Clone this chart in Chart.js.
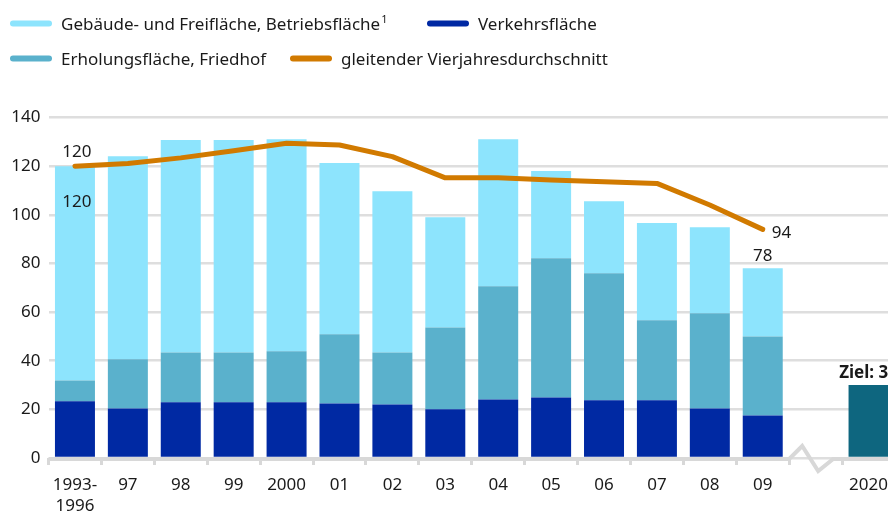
<!DOCTYPE html>
<html>
<head>
<meta charset="utf-8">
<script src="https://cdn.jsdelivr.net/npm/chart.js@4"></script>
<style>
  html, body { margin:0; padding:0; background:#fff; overflow:hidden; width:888px; height:515px; }
  #wrap { position:absolute; left:0; top:0; width:900px; height:515px; }
  #legend { position:absolute; left:0; top:0; width:888px; height:80px; font-family:"Noto Sans", sans-serif; font-size:17px; color:#1a1a1a; }
  .li { position:absolute; display:flex; align-items:center; white-space:nowrap; transform:translateY(-50%); }
  .mk { width:42px; height:6px; border-radius:3px; margin-right:9px; flex:none; }
  .tx sup { font-size:11px; vertical-align:7px; line-height:0; margin-left:1px; }
</style>
</head>
<body>
<div id="wrap"><canvas id="c" width="900" height="515"></canvas></div>
<div id="legend"></div>
<script>
// ---- data ----
const categories = [['1993-','1996'],'97','98','99','2000','01','02','03','04','05','06','07','08','09','','2020'];
const verkehr  = [23.3,20.4,22.9,22.9,22.9,22.4,22.0,20.0,24.1,24.9,23.7,23.7,20.4,17.5,null,null];
const erholung = [ 8.6,20.2,20.5,20.5,21.0,28.5,21.4,33.7,46.5,57.2,52.3,32.9,39.1,32.5,null,null];
const gebaeude = [88.1,83.5,87.3,87.3,87.2,70.4,66.3,45.3,60.5,35.9,29.6,40.0,35.4,28.0,null,null];
const average  = [120,121.1,123.4,126.3,129.4,128.7,123.9,115.2,115.2,114.3,113.6,112.9,104.0,94,null,null];
const target   = [null,null,null,null,null,null,null,null,null,null,null,null,null,null,null,30];
const yTicks   = [0,20,40,60,80,100,120,140];
const seriesNames = ['Gebäude- und Freifläche, Betriebsfläche', 'Verkehrsfläche', 'Erholungsfläche, Friedhof', 'gleitender Vierjahresdurchschnitt'];
const targetLabel = 'Ziel:';

// ---- styles ----
const C_LIGHT = '#8de4fd', C_MID = '#5ab1cc', C_DARK = '#0029a3', C_ORANGE = '#d17a00', C_TEAL = '#0e667f';
const FONT = '"Noto Sans", sans-serif';
const TXT = '#1a1a1a';
const GRID = '#dedede';

// legend (HTML, built from the series names)
const legendItems = [
  {name: seriesNames[0], color: C_LIGHT, sup: '1'},
  {name: seriesNames[1], color: C_DARK},
  {name: seriesNames[2], color: C_MID},
  {name: seriesNames[3], color: C_ORANGE}
];
const legendPos = [[10,23],[427,23],[10,58],[290,58]];
const lg = document.getElementById('legend');
legendItems.forEach((it,i)=>{
  const d = document.createElement('div');
  d.className = 'li';
  d.style.left = legendPos[i][0]+'px';
  d.style.top = legendPos[i][1]+'px';
  const m = document.createElement('span'); m.className='mk'; m.style.background = it.color;
  const t = document.createElement('span'); t.className = 'tx'; t.textContent = it.name;
  if (it.sup) { const s = document.createElement('sup'); s.textContent = it.sup; t.appendChild(s); }
  d.appendChild(m); d.appendChild(t);
  lg.appendChild(d);
});

const totals = verkehr.map((v,i)=> v==null ? null : v + erholung[i] + gebaeude[i]);

const decor = {
  id: 'decor',
  beforeDatasetsDraw(chart) {
    const {ctx, chartArea} = chart;
    const x = chart.scales.x;
    const slot = x.getPixelForValue(1) - x.getPixelForValue(0);
    const y0 = chart.scales.y.getPixelForValue(0) + 1;
    const b1 = x.getPixelForValue(13) + slot/2;
    ctx.save();
    ctx.strokeStyle = '#d8d8d8';
    ctx.lineWidth = 4;
    ctx.lineJoin = 'miter';
    ctx.beginPath();
    ctx.moveTo(chartArea.left, y0);
    ctx.lineTo(b1, y0);
    ctx.lineTo(b1+13, y0-13);
    ctx.lineTo(b1+29, y0+12);
    ctx.lineTo(b1+44, y0);
    ctx.lineTo(chartArea.right, y0);
    ctx.stroke();
    ctx.restore();
  },
  afterDatasetsDraw(chart) {
    const {ctx} = chart;
    const x = chart.scales.x, y = chart.scales.y;
    ctx.save();
    ctx.fillStyle = TXT;
    ctx.font = '17px ' + FONT;
    ctx.textAlign = 'center';
    ctx.textBaseline = 'middle';
    const first = 0, last = 13;
    ctx.fillText(String(Math.round(average[first])), x.getPixelForValue(first)+2, y.getPixelForValue(average[first]) - 14);
    ctx.fillText(String(Math.round(totals[first])), x.getPixelForValue(first)+2, y.getPixelForValue(totals[first]) + 36);
    ctx.fillText(String(Math.round(totals[last])), x.getPixelForValue(last), y.getPixelForValue(totals[last]) - 12);
    ctx.textAlign = 'left';
    ctx.fillText(String(Math.round(average[last])), x.getPixelForValue(last) + 9, y.getPixelForValue(average[last]) + 4);
    ctx.textAlign = 'center';
    ctx.font = 'bold 17px ' + FONT;
    const ti = 15;
    ctx.fillText(targetLabel + ' ' + target[ti], x.getPixelForValue(ti), y.getPixelForValue(target[ti]) - 12);
    ctx.restore();
  }
};

new Chart(document.getElementById('c'), {
  data: {
    labels: categories,
    datasets: [
      {type:'line', label: seriesNames[3], data: average, borderColor: C_ORANGE, backgroundColor: C_ORANGE,
       borderWidth: 5, pointRadius: 0, pointHoverRadius: 0, tension: 0, borderCapStyle: 'round', borderJoinStyle: 'round',
       stack: 'avg', order: 0, spanGaps: false},
      {type:'bar', label: seriesNames[1], data: verkehr, backgroundColor: C_DARK, stack: 'bars', order: 1},
      {type:'bar', label: seriesNames[2], data: erholung, backgroundColor: C_MID, stack: 'bars', order: 1},
      {type:'bar', label: seriesNames[0], data: gebaeude, backgroundColor: C_LIGHT, stack: 'bars', order: 1},
      {type:'bar', label: targetLabel, data: target, backgroundColor: C_TEAL, stack: 'bars', order: 1}
    ]
  },
  options: {
    responsive: false,
    animation: false,
    devicePixelRatio: 1,
    layout: { padding: { top: 117.5, right: 5, left: 0, bottom: 0 } },
    datasets: { bar: { barPercentage: 0.756, categoryPercentage: 1, borderWidth: 0 } },
    plugins: { legend: { display: false }, tooltip: { enabled: false } },
    scales: {
      x: {
        stacked: true,
        offset: true,
        border: { display: false },
        grid: { drawOnChartArea: false, drawTicks: true, tickLength: 7, color: '#d8d8d8', lineWidth: 3, offset: true },
        ticks: { color: TXT, font: { family: FONT, size: 17, lineHeight: 1.22 }, padding: 10, maxRotation: 0, autoSkip: false },
        afterFit(s) { s.height = 57; }
      },
      y: {
        stacked: true,
        min: 0, max: 140,
        afterBuildTicks(s) { s.ticks = yTicks.map(v => ({value: v})); },
        border: { display: false },
        grid: { color: GRID, lineWidth: 2.5, drawTicks: false },
        ticks: { color: TXT, font: { family: FONT, size: 17 }, padding: 8 },
        afterFit(s) { s.width = 48.5; }
      }
    }
  },
  plugins: [decor]
});
</script>
</body>
</html>
